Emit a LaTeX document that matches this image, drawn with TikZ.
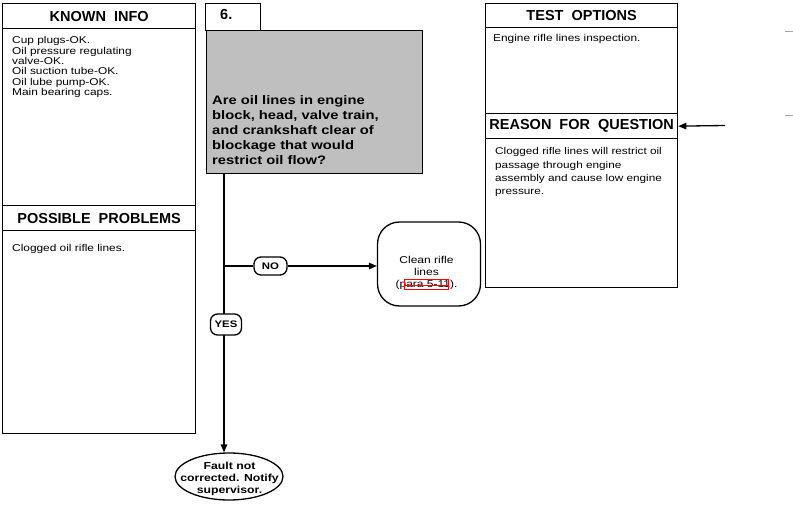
\documentclass[tikz,border=0pt]{standalone}
\usepackage{fontspec}
\setmainfont{Liberation Sans}
\newfontfamily\widefont[FakeStretch=1.2]{Liberation Sans}
\usetikzlibrary{arrows.meta,calc,shapes.geometric}
\begin{document}
\begin{tikzpicture}[x=1pt,y=-1pt,
  panel/.style={draw, line width=1.3pt, inner sep=0pt, anchor=north west},
  hdr/.style={font=\fontsize{14.5}{16}\selectfont\bfseries},
  body/.style={font=\widefont\fontsize{9.9}{10.3}\selectfont, align=left, inner sep=0pt, anchor=north west},
  conn/.style={line width=1.3pt},
  arr/.style={conn, -{Triangle[length=8pt,width=6.5pt]}},
  tag/.style={draw, line width=1.3pt, rounded corners=7pt, fill=white, inner sep=0pt,
    font=\widefont\fontsize{9.5}{10}\selectfont\bfseries}
]
\useasboundingbox (0,0) rectangle (793,511);

% left panel
\node[panel, minimum width=193pt, minimum height=430pt] (known) at (2,3) {};
\node[panel, hdr, minimum width=193pt, minimum height=25pt] (knownh) at (2,3) {KNOWN\hspace{8pt}INFO};
\node[body] (knowntxt) at (12,36.5) {Cup plugs-OK.\\Oil pressure regulating\\valve-OK.\\Oil suction tube-OK.\\Oil lube pump-OK.\\Main bearing caps.};
\node[panel, hdr, minimum width=193pt, minimum height=25pt] (probh) at (2,205) {POSSIBLE\hspace{8pt}PROBLEMS};
\node[body] (probtxt) at (12,244.5) {Clogged oil rifle lines.};

% question
\node[panel, minimum width=55pt, minimum height=27pt] (tab) at (205,3) {};
\node[font=\fontsize{14.5}{16}\selectfont\bfseries, inner sep=0pt, anchor=base west] (num) at (220,20) {6.};
\node[panel, fill=black!25, minimum width=216pt, minimum height=143pt] (q) at (206,30) {};
\node[font=\widefont\fontsize{12.3}{15.2}\selectfont\bfseries, align=left, inner sep=0pt, anchor=north west] (qtxt) at (212,95) {Are oil lines in engine\\block, head, valve train,\\and crankshaft clear of\\blockage that would\\restrict oil flow?};

% right panel
\node[panel, minimum width=192pt, minimum height=284pt] (test) at (485,3) {};
\node[panel, hdr, minimum width=192pt, minimum height=24pt] (testh) at (485,3) {TEST\hspace{8pt}OPTIONS};
\node[body] (testtxt) at (493,34.5) {Engine rifle lines inspection.};
\node[panel, hdr, minimum width=192pt, minimum height=25pt] (reasonh) at (485,113) {REASON\hspace{8pt}FOR\hspace{8pt}QUESTION};
\node[body, font=\widefont\fontsize{9.8}{13.3}\selectfont] (reasontxt) at (495,147.5) {Clogged rifle lines will restrict oil\\passage through engine\\assembly and cause low engine\\pressure.};
\coordinate (rq) at (725,125.5);
\draw[arr] (rq) -- (reasonh.east);

% flow
\node[draw, line width=1.3pt, rounded corners=22pt, minimum width=103pt, minimum height=84pt] (clean) at (429,264) {};
\node[font=\widefont\fontsize{10}{12}\selectfont, align=center, inner sep=0pt] (cleantxt) at (426.5,272.5) {Clean rifle\\lines\\(para 5-11).};
\draw[red, line width=0.7pt] ($(clean.center)+(-25,15)$) rectangle ($(clean.center)+(19,25)$);
\draw[red, line width=0.8pt] ($(clean.center)+(-25,21)$) -- ($(clean.center)+(19,21)$);

\node[draw, ellipse, line width=1.3pt, inner sep=0pt, minimum width=108pt, minimum height=47pt] (fault) at (229,476.5) {};
\node[font=\widefont\fontsize{10.2}{12}\selectfont\bfseries, align=center, inner sep=0pt] (faulttxt) at (229.5,478.5) {Fault not\\corrected. Notify\\supervisor.};

\coordinate (t0) at (224,173);
\draw[arr] (t0) -- (t0 |- fault.north);
\node[tag, minimum width=33pt, minimum height=18pt] (no) at (270.5,266) {NO};
\draw[conn] (t0 |- no) -- (no.west);
\draw[arr] (no.east) -- (no -| clean.west);
\node[tag, minimum width=31pt, minimum height=21pt] (yes) at (226,324.5) {YES};

% scan marks at right edge
\draw[black!35, line width=1pt] (785,32) -- (793,32);
\draw[black!35, line width=1pt] (785,115) -- (793,115);
\end{tikzpicture}
\end{document}
